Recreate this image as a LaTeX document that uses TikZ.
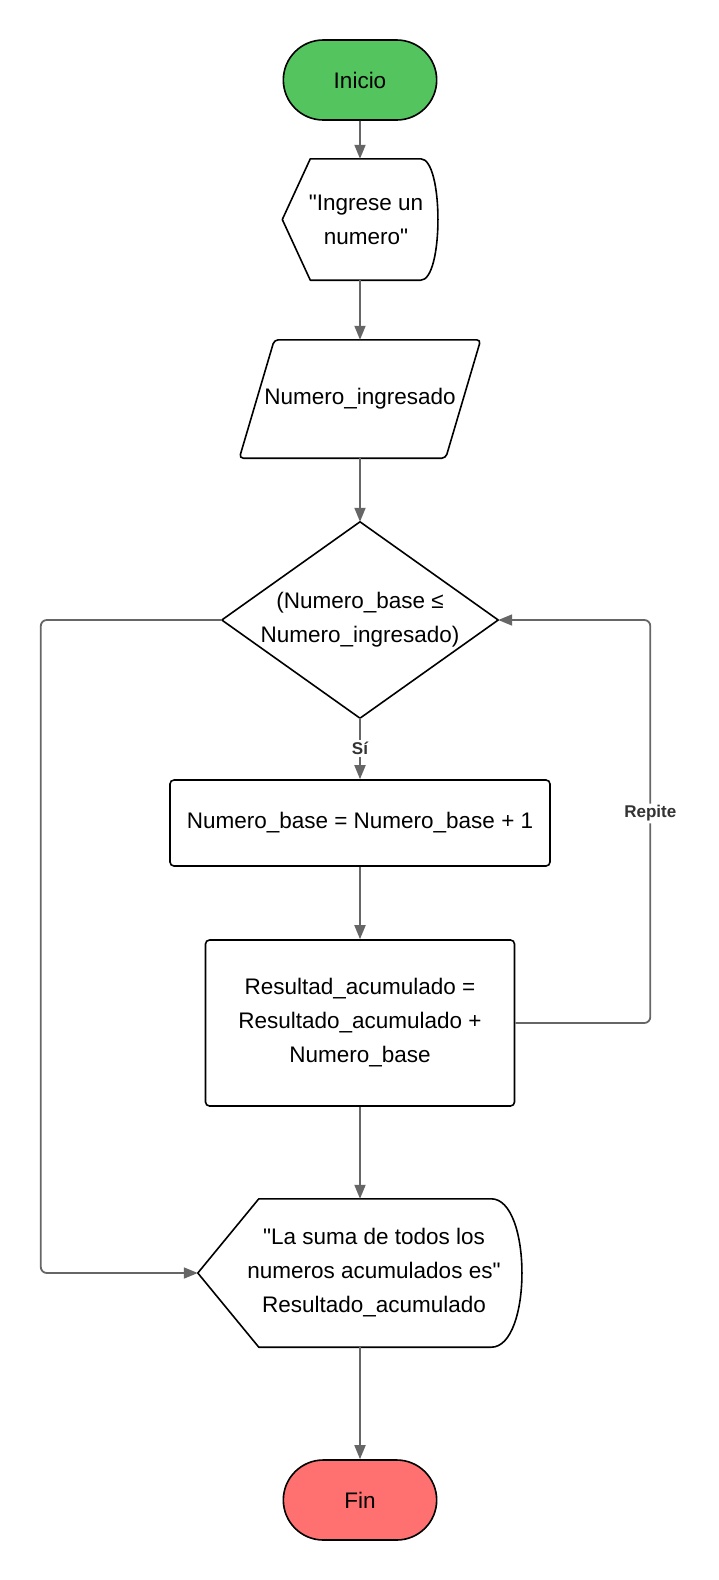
\documentclass[tikz,border=0pt]{standalone}
\usepackage{fontspec}
\setmainfont{Liberation Sans}
\usetikzlibrary{arrows.meta,shapes.misc}

\definecolor{verdeinicio}{HTML}{54C45E}
\definecolor{rojofin}{HTML}{FF7070}
\definecolor{gris}{HTML}{666666}
\definecolor{grislabel}{HTML}{333333}

\newcommand{\comilla}{\XeTeXglyph\the\XeTeXcharglyph"22\relax}

\tikzset{
  terminal/.style={rounded rectangle, draw, line width=1.6pt, minimum width=160pt, minimum height=80pt},
  proceso/.style={rectangle, draw, line width=1.6pt, rounded corners=4pt, align=center},
  hueco/.style={inner sep=0pt, align=center},
  borde/.style={draw, line width=1.6pt, line join=round},
  flecha/.style={-{Triangle[length=14pt,width=11pt]}, gris, line width=1.8pt},
  etiqueta/.style={fill=white, text=grislabel, font=\bfseries\fontsize{17}{20}\selectfont, inner sep=2pt},
}

\begin{document}
\begin{tikzpicture}[x=1pt, y=-1pt, font=\fontsize{22.5}{34}\selectfont]
    \useasboundingbox (0,0) rectangle (718,1580);

    % Inicio
    \node[terminal, fill=verdeinicio] (inicio) at (360,80) {Inicio};

    % Mensaje de entrada
    \node[hueco, minimum width=155pt, minimum height=121pt,
        label={[align=center, xshift=6pt]center:{\comilla Ingrese un\\numero\comilla}}] (mensaje) at (360,219.5) {};
    \draw[borde] (mensaje.west) -- ([xshift=28pt]mensaje.north west) -- ([xshift=-17pt]mensaje.north east)
        .. controls ([xshift=6pt]mensaje.north east) and ([xshift=6pt]mensaje.south east) .. ([xshift=-17pt]mensaje.south east)
        -- ([xshift=28pt]mensaje.south west) -- cycle;

    % Lectura
    \node[hueco, minimum width=241pt, minimum height=118pt] (numero) at (360,399) {Numero\_ingresado};
    \draw[borde, rounded corners=4pt] ([xshift=35pt]numero.north west) -- (numero.north east)
        -- ([xshift=-35pt]numero.south east) -- (numero.south west) -- cycle;

    % Condicion
    \node[hueco, minimum width=276pt, minimum height=196pt] (cond) at (360,620) {(Numero\_base ≤\\Numero\_ingresado)};
    \draw[borde] (cond.north) -- (cond.east) -- (cond.south) -- (cond.west) -- cycle;

    % Procesos
    \node[proceso, minimum width=380pt, minimum height=86pt] (suma) at (360,823) {Numero\_base = Numero\_base + 1};
    \node[proceso, minimum width=309pt, minimum height=166pt] (acum) at (360,1023) {Resultad\_acumulado =\\Resultado\_acumulado +\\Numero\_base};

    % Salida
    \node[hueco, minimum width=324pt, minimum height=148pt,
        label={[align=center, xshift=14pt]center:{\comilla La suma de todos los\\numeros acumulados es\comilla\\Resultado\_acumulado}}] (salida) at (360,1273) {};
    \draw[borde] (salida.west) -- ([xshift=61pt]salida.north west) -- ([xshift=-31pt]salida.north east)
        .. controls ([xshift=10pt]salida.north east) and ([xshift=10pt]salida.south east) .. ([xshift=-31pt]salida.south east)
        -- ([xshift=61pt]salida.south west) -- cycle;

    % Fin
    \node[terminal, fill=rojofin] (fin) at (360,1500) {Fin};

    % Flechas
    \draw[flecha] (inicio) -- (mensaje);
    \draw[flecha] (mensaje) -- (numero);
    \draw[flecha] (numero) -- (cond.north);
    \draw[flecha] (cond.south) -- node[etiqueta] {Sí} (suma);
    \draw[flecha] (suma) -- (acum);
    \draw[flecha] (acum) -- (salida);
    \draw[flecha] (salida) -- (fin);

    % Bucles
    \draw[flecha, rounded corners=6pt] (acum.east) -- ++(135,0) |- node[etiqueta, pos=0.26] {Repite} (cond.east);
    \draw[flecha, rounded corners=6pt] (cond.west) -- ++(-181,0) |- (salida.west);
\end{tikzpicture}
\end{document}
